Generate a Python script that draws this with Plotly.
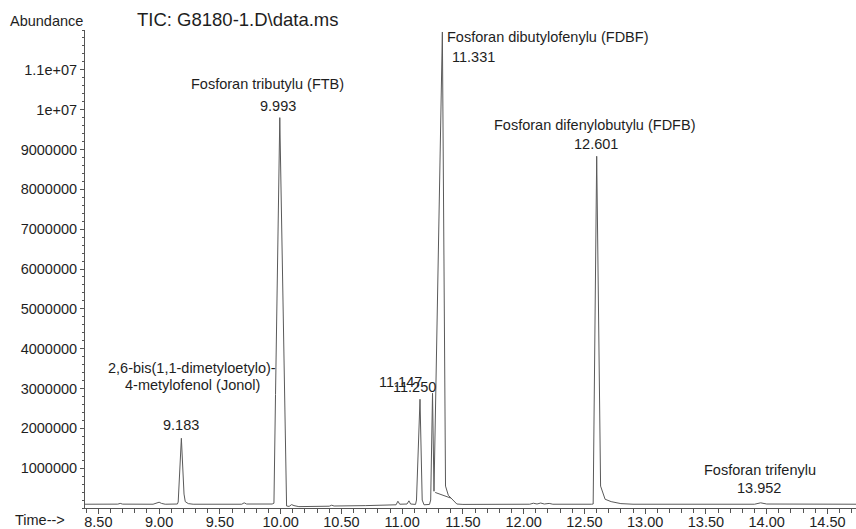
import plotly.graph_objects as go

# ---- data ----
time_min = [8.39, 8.60, 8.66, 8.68, 8.70, 8.95, 8.98, 9.00, 9.02, 9.05, 9.15, 9.157, 9.183, 9.205, 9.215,
            9.24, 9.28, 9.68, 9.70, 9.72, 9.93, 9.945, 9.958, 9.993, 10.049, 10.07, 10.09, 10.11, 10.15,
            10.40, 10.42, 10.44, 10.70, 10.95, 10.965, 10.98, 11.04, 11.056, 11.07, 11.11, 11.118, 11.147,
            11.165, 11.18, 11.225, 11.235, 11.250, 11.262, 11.331, 11.357, 11.38, 11.42, 11.45, 11.50,
            12.05, 12.08, 12.11, 12.14, 12.17, 12.21, 12.24, 12.56, 12.572, 12.601, 12.633, 12.67, 12.72,
            12.80, 12.90, 13.90, 13.95, 14.00, 14.74]
abundance = [95000, 95000, 97000, 115000, 97000, 95000, 120000, 145000, 115000, 95000, 100000, 150000,
             1750000, 350000, 160000, 110000, 95000, 95000, 130000, 100000, 100000, 120000, 2850000,
             9800000, 50000, 40000, 85000, 60000, 35000, 45000, 70000, 50000, 60000, 80000, 170000, 95000,
             100000, 180000, 100000, 90000, 200000, 2730000, 200000, 80000, 90000, 200000, 2880000, 420000,
             11950000, 550000, 320000, 180000, 100000, 90000, 95000, 120000, 100000, 125000, 100000,
             115000, 95000, 95000, 100000, 8830000, 550000, 220000, 160000, 110000, 95000, 95000, 130000,
             100000, 95000]

# integration baseline under the 11.331 peak
base_time = [11.272, 11.40]
base_abund = [390000, 250000]

y_tick_vals = [1e6, 2e6, 3e6, 4e6, 5e6, 6e6, 7e6, 8e6, 9e6, 1e7, 1.1e7]
y_tick_text = ["1000000", "2000000", "3000000", "4000000", "5000000", "6000000",
               "7000000", "8000000", "9000000", "1e+07", "1.1e+07"]

# peak labels: (text, time, abundance at label position)
peak_labels = [
    ("Fosforan tributylu (FTB)", 9.895, 10.65e6),
    ("9.993", 9.977, 10.10e6),
    ("2,6-bis(1,1-dimetyloetylo)-", 9.270, 3.52e6),
    ("4-metylofenol (Jonol)", 9.278, 3.09e6),
    ("9.183", 9.179, 2.085e6),
    ("11.147", 10.990, 3.166e6),
    ("11.250", 11.105, 3.04e6),
    ("Fosforan dibutylofenylu (FDBF)", 12.200, 11.83e6),
    ("11.331", 11.590, 11.33e6),
    ("Fosforan difenylobutylu (FDFB)", 12.586, 9.62e6),
    ("12.601", 12.595, 9.15e6),
    ("Fosforan trifenylu", 13.944, 0.955e6),
    ("13.952", 13.936, 0.50e6),
]

FONT = "Liberation Sans, Arial, sans-serif"
TXT = "#1e1e1e"
AX = "#555555"

fig = go.Figure()
fig.add_trace(go.Scatter(x=time_min, y=abundance, mode="lines",
                         line=dict(color="#5a5a5a", width=1), hoverinfo="skip"))
fig.add_trace(go.Scatter(x=base_time, y=base_abund, mode="lines",
                         line=dict(color="#5a5a5a", width=1), hoverinfo="skip"))

annos = []
for txt, t, a in peak_labels:
    annos.append(dict(x=t, y=a, xref="x", yref="y", text=txt, showarrow=False,
                      xanchor="center", yanchor="middle",
                      font=dict(family=FONT, size=14.5, color=TXT)))
annos.append(dict(x=0, y=1.0188, xref="paper", yref="paper", text="Abundance", showarrow=False,
                  xanchor="right", yanchor="middle", font=dict(family=FONT, size=14.5, color=TXT)))
annos.append(dict(x=0.0649, y=1.021, xref="paper", yref="paper", text="TIC: G8180-1.D\\data.ms",
                  showarrow=False, xanchor="left", yanchor="middle",
                  font=dict(family=FONT, size=18.5, color=TXT)))
annos.append(dict(x=0, y=-0.0255, xref="paper", yref="paper", text="Time-->", showarrow=False,
                  xanchor="right", yanchor="middle", xshift=-18,
                  font=dict(family=FONT, size=14.5, color=TXT)))

fig.update_layout(
    width=856, height=529,
    margin=dict(l=85, r=0, t=30, b=21, autoexpand=False),
    paper_bgcolor="white", plot_bgcolor="white",
    showlegend=False,
    annotations=annos,
    xaxis=dict(range=[8.39, 14.735], tickmode="linear", tick0=8.5, dtick=0.5, tickformat=".2f",
               automargin=False,
               showgrid=False, zeroline=False, showline=True, linecolor=AX, linewidth=1,
               ticks="outside", ticklen=5, tickcolor=AX, tickwidth=1, ticklabelstandoff=-4,
               tickfont=dict(family=FONT, size=14.5, color=TXT),
               minor=dict(tickmode="linear", tick0=8.4, dtick=0.1, ticks="outside", ticklen=4,
                          tickcolor=AX, showgrid=False)),
    yaxis=dict(range=[0, 1.2e7], tickmode="array", tickvals=y_tick_vals, ticktext=y_tick_text,
               automargin=False,
               showgrid=False, zeroline=False, showline=True, linecolor=AX, linewidth=1,
               ticks="outside", ticklen=4, tickcolor=AX, tickwidth=1,
               tickfont=dict(family=FONT, size=14.5, color=TXT),
               minor=dict(tickmode="linear", tick0=0, dtick=2e5, ticks="outside", ticklen=2,
                          tickcolor=AX, showgrid=False)),
)

fig.write_html("out.html", config={"displayModeBar": False},
               post_script="document.body.style.margin='0';document.body.style.overflow='hidden';")
